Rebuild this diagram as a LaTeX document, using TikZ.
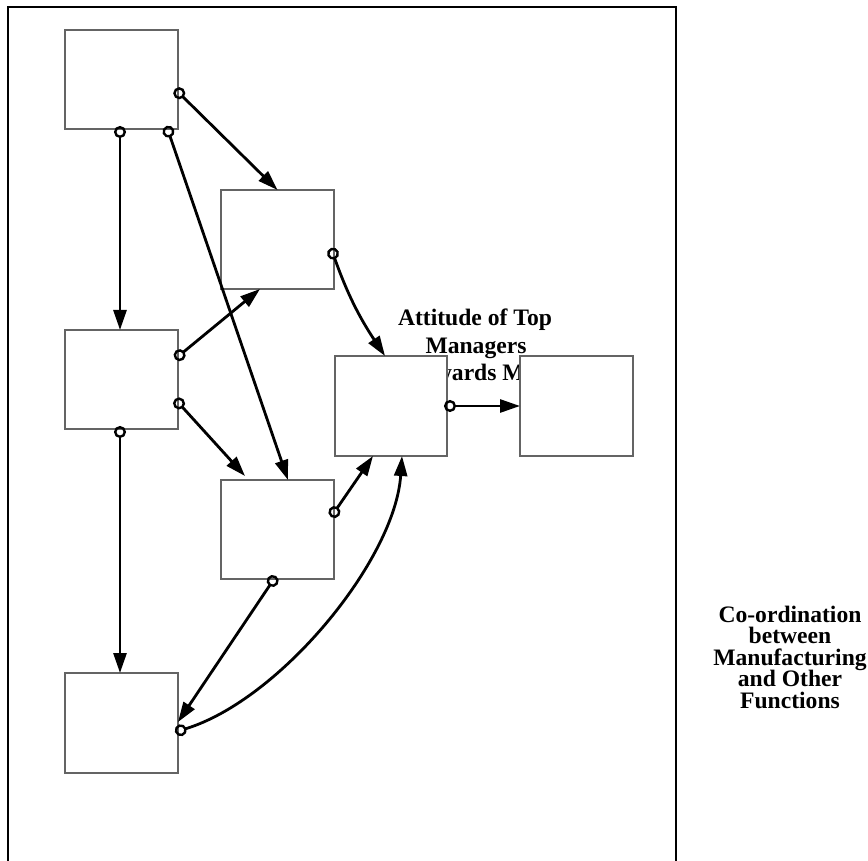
\documentclass[tikz,border=0pt]{standalone}
\usepackage{fontspec}
\setmainfont{Liberation Serif}
\usetikzlibrary{arrows.meta,calc}
\definecolor{boxgray}{RGB}{100,100,100}
\begin{document}
\begin{tikzpicture}[x=1pt,y=-1pt,
  box/.style={draw=boxgray, fill=white, line width=1.4pt, minimum width=113pt, minimum height=99pt, inner sep=0pt, outer sep=0pt},
  conn/.style={line width=2.8pt, arrows={Circle[open,length=12pt,width=12pt,line width=2.4pt]-Triangle[length=20pt,width=13pt]}},
  lbl/.style={font=\bfseries\fontsize{23.6}{27.5}\selectfont, inner sep=0pt, anchor=base}]
\useasboundingbox (0,0) rectangle (868,861);
% frame
\draw[line width=2.6pt] (8,861) -- (8,7) -- (676,7) -- (676,861);
% texts (behind boxes)
\node[lbl] (t1) at (475,325) {Attitude of Top};
\node[lbl] (t2) at (476,353) {Managers};
\node[lbl] (t3) at (470,380) {towards M};
\node[lbl] (c1) at (790,622) {Co-ordination};
\node[lbl] (c2) at (790,643.5) {between};
\node[lbl] (c3) at (790,665) {Manufacturing};
\node[lbl] (c4) at (790,686.5) {and Other};
\node[lbl] (c5) at (790,708) {Functions};
% boxes
\node[box] (A) at (121.5,79.5) {};
\node[box] (B) at (277.5,239.5) {};
\node[box] (C) at (121.5,379.5) {};
\node[box, minimum width=112pt, minimum height=100pt] (D) at (391,406) {};
\node[box, minimum height=100pt] (E) at (576.5,406) {};
\node[box] (F) at (277.5,529.5) {};
\node[box, minimum height=100pt] (G) at (121.5,723) {};
% connectors
\draw[conn] ($(A.east)+(-3,9.5)$) -- (B.north);
\draw[conn] ($(A.south)+(-1.5,-3)$) -- ($(C.north)+(-1.5,0)$);
\draw[conn] ($(A.south)+(45,-3)$) -- ($(F.north)+(10.5,0)$);
\draw[conn] ($(B.east)+(-3,8.5)$) to[bend right=7] ($(D.north)+(-6,0)$);
\draw[conn] ($(C.east)+(-3,-20.5)$) -- ($(B.south)+(-17.5,0)$);
\draw[conn] ($(C.east)+(-3,19.5)$) -- ($(F.north)+(-32.5,-4)$);
\draw[conn] ($(C.south)+(-1.5,-3)$) -- ($(G.north)+(-1.5,0)$);
\draw[conn] ($(D.east)+(-3,0)$) -- (E.west);
\draw[conn] ($(F.east)+(-3,-12.5)$) -- ($(D.south)+(-18,0)$);
\draw[conn] ($(F.south)+(-1.5,-3)$) -- ($(G.east)+(0,-1)$);
\draw[conn] ($(G.east)+(-3,9)$) .. controls (280,700) and (395,560) .. ($(D.south)+(11,0)$);
\end{tikzpicture}
\end{document}
